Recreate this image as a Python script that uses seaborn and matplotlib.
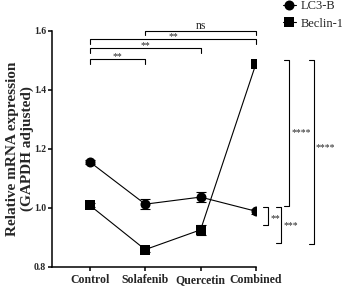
import numpy as np
import pandas as pd
import matplotlib
matplotlib.use('Agg')
import matplotlib.pyplot as plt
import seaborn as sns

# --- 데이터 ---
groups = ['Control', 'Solafenib', 'Quercetin', 'Combined']
lc3b = [1.155, 1.012, 1.036, 0.988]
lc3b_err = [0.006, 0.018, 0.016, 0.008]
beclin = [1.008, 0.858, 0.925, 1.488]
beclin_err = [0.007, 0.008, 0.018, 0.008]
yticks = [0.8, 1.0, 1.2, 1.4, 1.6]

# 위쪽 비교 (왼쪽 그룹, 오른쪽 그룹, 높이, 표시)
top_pairs = [(0, 1, 1.503, '**'), (0, 2, 1.540, '**'),
             (0, 3, 1.571, '**'), (1, 3, 1.600, 'ns')]
# 오른쪽 비교 (x 위치, 위, 아래, 표시, 표시 높이)
side_pairs = [(3.22, 1.004, 0.942, '**', 0.972),
              (3.45, 1.004, 0.879, '***', 0.947),
              (3.60, 1.500, 1.007, '****', 1.263),
              (4.04, 1.500, 0.876, '****', 1.213)]

sns.set_theme(style='ticks')
plt.rcParams['font.family'] = ['Liberation Serif', 'DejaVu Serif']

df = pd.DataFrame({
    'group': groups * 2,
    'value': lc3b + beclin,
    'gene': ['LC3-B'] * 4 + ['Beclin-1'] * 4,
})

fig = plt.figure(figsize=(3.42, 2.87), dpi=100)
ax = fig.add_axes([0.151, 0.0707, 0.5974, 0.8223])

sns.lineplot(data=df, x='group', y='value', hue='gene', style='gene',
             markers={'LC3-B': 'o', 'Beclin-1': 's'}, dashes=False,
             palette={'LC3-B': 'black', 'Beclin-1': 'black'},
             markersize=7.2, linewidth=0.8, markeredgewidth=0,
             sort=False, ax=ax, zorder=3)

x = np.arange(len(groups))
for vals, errs in [(lc3b, lc3b_err), (beclin, beclin_err)]:
    ax.errorbar(x, vals, yerr=errs, fmt='none', ecolor='black',
                elinewidth=0.8, capsize=3.8, capthick=0.8, zorder=2)

# 범례
handles, labels = ax.get_legend_handles_labels()
ax.legend(handles, labels, loc='upper left', bbox_to_anchor=(283 / 342, 1.0),
          bbox_transform=fig.transFigure, frameon=False, borderpad=0,
          borderaxespad=0, handlelength=1.0, handletextpad=0.4,
          labelspacing=0.45, fontsize=9)

# 축
ax.set_xlim(-0.69, 3)
ax.set_ylim(0.8, 1.6)
ax.set_yticks(yticks)
ax.set_yticklabels([f'{t:.1f}' for t in yticks], fontsize=7, fontweight='bold')
ax.set_xticks(x)
ax.set_xticklabels(groups, fontsize=8.5, fontweight='bold')
ax.tick_params(axis='both', direction='out', length=3, width=1.1, color='black')
ax.tick_params(axis='x', pad=2.5)
ax.tick_params(axis='y', pad=1)
ax.set_xlabel('')
ax.set_ylabel('Relative mRNA expression\n(GAPDH adjusted)', fontsize=11,
              fontweight='bold', linespacing=1.15)
ax.yaxis.set_label_coords(-0.088, 0.5)
sns.despine(ax=ax)
for s in ['left', 'bottom']:
    ax.spines[s].set_linewidth(1.1)
    ax.spines[s].set_color('black')

# 유의성 표시 (위)
h = 0.015
for a, b, y, lab in top_pairs:
    ax.plot([a, a, b, b], [y - h, y, y, y - h], color='black', lw=0.8, clip_on=False)
    if lab == 'ns':
        ax.text((a + b) / 2, y + 0.007, lab, ha='center', va='baseline', fontsize=8.5)
    else:
        ax.text((a + b) / 2, y, lab, ha='center', va='baseline', fontsize=7)

# 유의성 표시 (오른쪽)
t = 0.09
for xp, y1, y2, lab, ly in side_pairs:
    ax.plot([xp - t, xp, xp, xp - t], [y1, y1, y2, y2], color='black', lw=0.8, clip_on=False)
    ax.text(xp + 0.04, ly - 0.017, lab, ha='left', va='baseline', fontsize=7)

plt.savefig('out.png', dpi=100)
